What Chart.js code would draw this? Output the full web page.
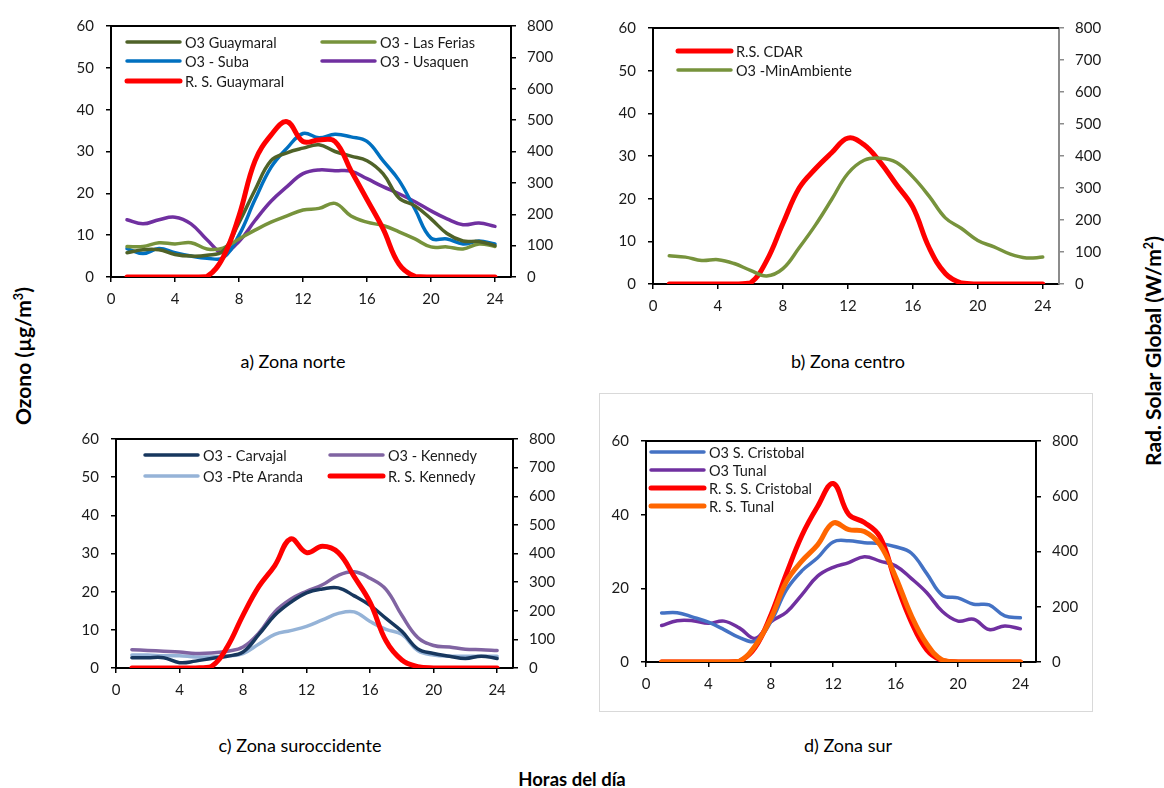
<!DOCTYPE html>
<html>
<head>
<meta charset="utf-8">
<script src="https://cdn.jsdelivr.net/npm/chart.js@4.4.1/dist/chart.umd.min.js"></script>
<style>
  html, body { margin: 0; padding: 0; background: #fff; }
  body { width: 1164px; height: 788px; position: relative; overflow: hidden; font-family: Lato, "Open Sans", sans-serif; color: #000; }
  canvas { position: absolute; }
  .title { position: absolute; font-size: 18px; transform: translateX(-50%); white-space: nowrap; }
  .axis-title { position: absolute; font-weight: bold; white-space: nowrap; line-height: 1; }
  .axis-title sup { font-size: 0.6em; vertical-align: 0.6em; line-height: 0; }
  .box { position: absolute; left: 599px; top: 393px; width: 492px; height: 317px; border: 1.5px solid #d9d9d9; }
</style>
</head>
<body>
<div class="box"></div>
<canvas id="chartA"></canvas>
<canvas id="chartB"></canvas>
<canvas id="chartC"></canvas>
<canvas id="chartD"></canvas>

<div class="title" style="left:293px; top:350px;">a) Zona norte</div>
<div class="title" style="left:848px; top:350px;">b) Zona centro</div>
<div class="title" style="left:300px; top:734px;">c) Zona suroccidente</div>
<div class="title" style="left:848px; top:734px;">d) Zona sur</div>
<div class="axis-title" style="font-size:18.5px; left:572px; top:770px; transform:translateX(-50%);">Horas del día</div>
<div class="axis-title" style="font-size:21px; left:22px; top:356px; transform:translate(-50%,-50%) rotate(-90deg);">Ozono (µg/m<sup>3</sup>)</div>
<div class="axis-title" style="font-size:21px; left:1152px; top:351px; transform:translate(-50%,-50%) rotate(-90deg);">Rad. Solar Global (W/m<sup>2</sup>)</div>

<script>
// horas del día
const hours = [1, 2, 3, 4, 5, 6, 7, 8, 9, 10, 11, 12, 13, 14, 15, 16, 17, 18, 19, 20, 21, 22, 23, 24];

// a) Zona norte
const guaymaralO3 = [5.8, 6.5, 6.5, 5.4, 5.0, 5.2, 6.2, 13.0, 20.8, 27.8, 29.7, 30.8, 31.6, 30.0, 28.9, 27.8, 24.7, 18.9, 17.0, 13.9, 10.4, 8.6, 8.5, 7.5];
const lasFeriasO3 = [7.3, 7.3, 8.2, 7.9, 8.2, 6.7, 6.9, 9.1, 11.2, 13.1, 14.6, 16.0, 16.4, 17.6, 14.6, 13.1, 12.3, 10.8, 9.1, 7.2, 7.2, 6.7, 7.9, 7.3];
const subaO3 = [6.8, 5.6, 6.8, 5.8, 5.0, 4.5, 4.6, 10.0, 18.5, 26.2, 30.8, 34.3, 33.3, 34.1, 33.5, 32.4, 27.8, 23.1, 16.2, 9.3, 9.1, 7.9, 8.6, 7.9];
const usaquenO3 = [13.7, 12.7, 13.7, 14.3, 12.7, 8.9, 5.8, 8.5, 13.5, 18.1, 21.6, 24.7, 25.6, 25.4, 25.3, 23.5, 21.6, 19.9, 18.0, 15.8, 13.9, 12.5, 12.9, 12.1];
const radGuaymaral = [0, 0, 0, 0, 0, 2, 62, 195, 370, 452, 495, 432, 437, 432, 339, 247, 154, 41, 2, 0, 0, 0, 0, 0];

// b) Zona centro
const radCdar = [0, 0, 0, 0, 0, 3, 73, 189, 300, 360, 410, 456, 435, 380, 310, 240, 114, 33, 3, 0, 0, 0, 0, 0];
const minAmbienteO3 = [6.6, 6.3, 5.5, 5.7, 4.8, 3.2, 1.9, 3.6, 8.5, 13.8, 19.8, 25.9, 29.0, 29.5, 28.5, 25.1, 20.6, 15.5, 13.0, 10.2, 8.7, 7.0, 6.1, 6.3];

// c) Zona suroccidente
const carvajalO3 = [2.7, 2.7, 2.7, 1.4, 1.8, 2.5, 3.1, 4.2, 8.8, 13.8, 17.2, 19.7, 20.7, 21.0, 18.9, 16.4, 13.0, 9.6, 5.0, 3.8, 3.1, 2.5, 3.1, 2.5];
const kennedyO3 = [4.8, 4.6, 4.4, 4.2, 3.8, 3.9, 4.4, 5.5, 9.2, 14.7, 18.0, 20.1, 21.8, 24.3, 25.2, 23.5, 20.6, 13.8, 8.0, 5.9, 5.5, 4.9, 4.8, 4.6];
const pteArandaO3 = [3.4, 3.4, 3.2, 3.2, 2.9, 2.9, 3.1, 3.8, 6.3, 8.8, 9.8, 10.9, 12.6, 14.3, 14.7, 12.2, 10.1, 8.8, 4.6, 3.4, 3.1, 3.1, 3.1, 3.1];
const radKennedy = [0, 0, 0, 0, 0, 5, 73, 185, 285, 358, 451, 403, 425, 403, 319, 229, 95, 28, 5, 0, 0, 0, 0, 0];

// d) Zona sur
const cristobalO3 = [13.3, 13.4, 12.2, 10.8, 8.8, 6.6, 5.7, 10.9, 19.6, 24.8, 28.3, 32.6, 32.9, 32.4, 32.2, 31.3, 29.6, 24.0, 18.1, 17.4, 15.7, 15.5, 12.5, 12.0];
const tunalO3 = [9.9, 11.2, 11.2, 10.5, 11.1, 9.2, 6.4, 10.9, 13.5, 18.3, 23.3, 25.7, 27.0, 28.6, 27.4, 26.1, 22.7, 18.8, 13.7, 11.1, 11.6, 8.8, 9.8, 9.0];
const radCristobal = [0, 0, 0, 0, 0, 3, 53, 169, 320, 459, 563, 646, 534, 505, 453, 291, 146, 44, 5, 0, 0, 0, 0, 0];
const radTunal = [0, 0, 0, 0, 0, 3, 59, 157, 291, 366, 424, 503, 479, 472, 424, 308, 169, 65, 7, 0, 0, 0, 0, 0];

const FONT = 'Lato, "Open Sans", sans-serif';
const TXT = '#1a1a1a';

// pares (hora, valor) para el eje x lineal
const pts = vals => hours.map((h, i) => ({ x: h, y: vals[i] }));

// marco superior del área del gráfico
const topFrame = {
  id: 'topFrame',
  afterDraw(chart) {
    const { ctx, chartArea: a } = chart;
    ctx.save();
    ctx.strokeStyle = '#000';
    ctx.lineWidth = 2;
    ctx.beginPath();
    ctx.moveTo(a.left - 1, a.top);
    ctx.lineTo(a.right, a.top);
    ctx.stroke();
    ctx.restore();
  }
};

// leyenda dentro del área del gráfico, como en Excel
const inLegend = {
  id: 'inLegend',
  afterDraw(chart, args, opts) {
    const { ctx, chartArea: a } = chart;
    ctx.save();
    ctx.font = opts.font;
    ctx.textBaseline = 'middle';
    ctx.fillStyle = TXT;
    chart.data.datasets.forEach((ds, i) => {
      const col = i % opts.cols;
      const row = Math.floor(i / opts.cols);
      const x = a.left + opts.x[col];
      const y = a.top + opts.y[row];
      ctx.strokeStyle = ds.borderColor;
      ctx.lineWidth = ds.borderWidth;
      ctx.lineCap = 'round';
      ctx.beginPath();
      ctx.moveTo(x, y);
      ctx.lineTo(x + opts.swatch, y);
      ctx.stroke();
      ctx.fillText(ds.label, x + opts.swatch + 5, y + 1);
    });
    ctx.restore();
  }
};

function line(label, color, vals, axis, width, order) {
  return {
    label: label,
    data: pts(vals),
    borderColor: color,
    backgroundColor: color,
    borderWidth: width,
    yAxisID: axis,
    order: order,
    pointRadius: 0,
    tension: 0.4,
    borderCapStyle: 'round',
    borderJoinStyle: 'round',
    fill: false
  };
}

function makeChart(id, rect, datasets, opt) {
  const cv = document.getElementById(id);
  const padL = 60, padR = 60, padT = 12, padB = 40;
  const w = rect.r - rect.l + padL + padR;
  const h = rect.b - rect.t + padT + padB;
  cv.width = w; cv.height = h;
  cv.style.left = (rect.l - padL) + 'px';
  cv.style.top = (rect.t - padT) + 'px';
  cv.style.width = w + 'px';
  cv.style.height = h + 'px';

  const tickFont = { family: FONT, size: 15 };
  const grid = { drawOnChartArea: false, drawTicks: true, tickLength: 5, color: '#000', lineWidth: 1.5 };

  return new Chart(cv, {
    type: 'line',
    data: { datasets: datasets },
    plugins: [topFrame, inLegend],
    options: {
      responsive: false,
      animation: false,
      layout: { padding: { top: padT, left: 0, right: 0, bottom: 0 } },
      plugins: {
        legend: { display: false },
        tooltip: { enabled: false },
        inLegend: opt.legend
      },
      scales: {
        x: {
          type: 'linear',
          min: 0, max: 25,
          afterFit: s => { s.height = padB; },
          afterBuildTicks: s => { s.ticks = s.ticks.filter(t => t.value % 4 === 0); },
          ticks: { stepSize: 4, includeBounds: false, font: tickFont, color: TXT, padding: 8, maxRotation: 0 },
          grid: grid,
          border: { color: '#000', width: 2 }
        },
        y: {
          position: 'left',
          min: 0, max: 60,
          afterFit: s => { s.width = padL; },
          ticks: { stepSize: opt.leftStep, font: tickFont, color: TXT, padding: 12 },
          grid: grid,
          border: { color: '#000', width: 2 }
        },
        y2: {
          position: 'right',
          min: 0, max: 800,
          afterFit: s => { s.width = padR; },
          ticks: { stepSize: opt.rightStep, font: tickFont, color: TXT, padding: 11 },
          grid: Object.assign({}, grid, { color: opt.rightColor || '#000' }),
          border: { color: opt.rightColor || '#000', width: 2 }
        }
      }
    }
  });
}

const legendFont = '14.5px ' + FONT;

makeChart('chartA', { l: 111, t: 17, r: 511, b: 277 }, [
  line('O3 Guaymaral', '#4f6228', guaymaralO3, 'y', 3.5, 2),
  line('O3 - Las Ferias', '#77933c', lasFeriasO3, 'y', 3.5, 2),
  line('O3 - Suba', '#0070c0', subaO3, 'y', 3.5, 2),
  line('O3 - Usaquen', '#7030a0', usaquenO3, 'y', 3.5, 2),
  line('R. S. Guaymaral', '#ff0000', radGuaymaral, 'y2', 5, 0)
], { leftStep: 10, rightStep: 100, legend: { cols: 2, x: [16, 211], y: [16, 35, 55], swatch: 53, font: legendFont } });

makeChart('chartB', { l: 653, t: 19, r: 1059, b: 284 }, [
  line('R.S. CDAR', '#ff0000', radCdar, 'y2', 5, 1),
  line('O3 -MinAmbiente', '#77933c', minAmbienteO3, 'y', 3.5, 0)
], { leftStep: 10, rightStep: 100, rightColor: '#8c8c8c', legend: { cols: 1, x: [25], y: [23, 42], swatch: 53, font: legendFont } });

makeChart('chartC', { l: 116, t: 430, r: 513, b: 668 }, [
  line('O3 - Carvajal', '#17375e', carvajalO3, 'y', 3.5, 2),
  line('O3 - Kennedy', '#8064a2', kennedyO3, 'y', 3.5, 2),
  line('O3 -Pte Aranda', '#95b3d7', pteArandaO3, 'y', 3.5, 2),
  line('R. S. Kennedy', '#ff0000', radKennedy, 'y2', 5, 0)
], { leftStep: 10, rightStep: 100, legend: { cols: 2, x: [29, 214], y: [16, 37], swatch: 53, font: legendFont } });

makeChart('chartD', { l: 646, t: 432, r: 1036, b: 662 }, [
  line('O3 S. Cristobal', '#4472c4', cristobalO3, 'y', 3.5, 3),
  line('O3 Tunal', '#7030a0', tunalO3, 'y', 3.5, 3),
  line('R. S. S. Cristobal', '#ff0000', radCristobal, 'y2', 5, 1),
  line('R. S. Tunal', '#ff6600', radTunal, 'y2', 5, 0)
], { leftStep: 20, rightStep: 200, legend: { cols: 1, x: [5], y: [11, 29, 47, 65], swatch: 53, font: legendFont } });
</script>
</body>
</html>
